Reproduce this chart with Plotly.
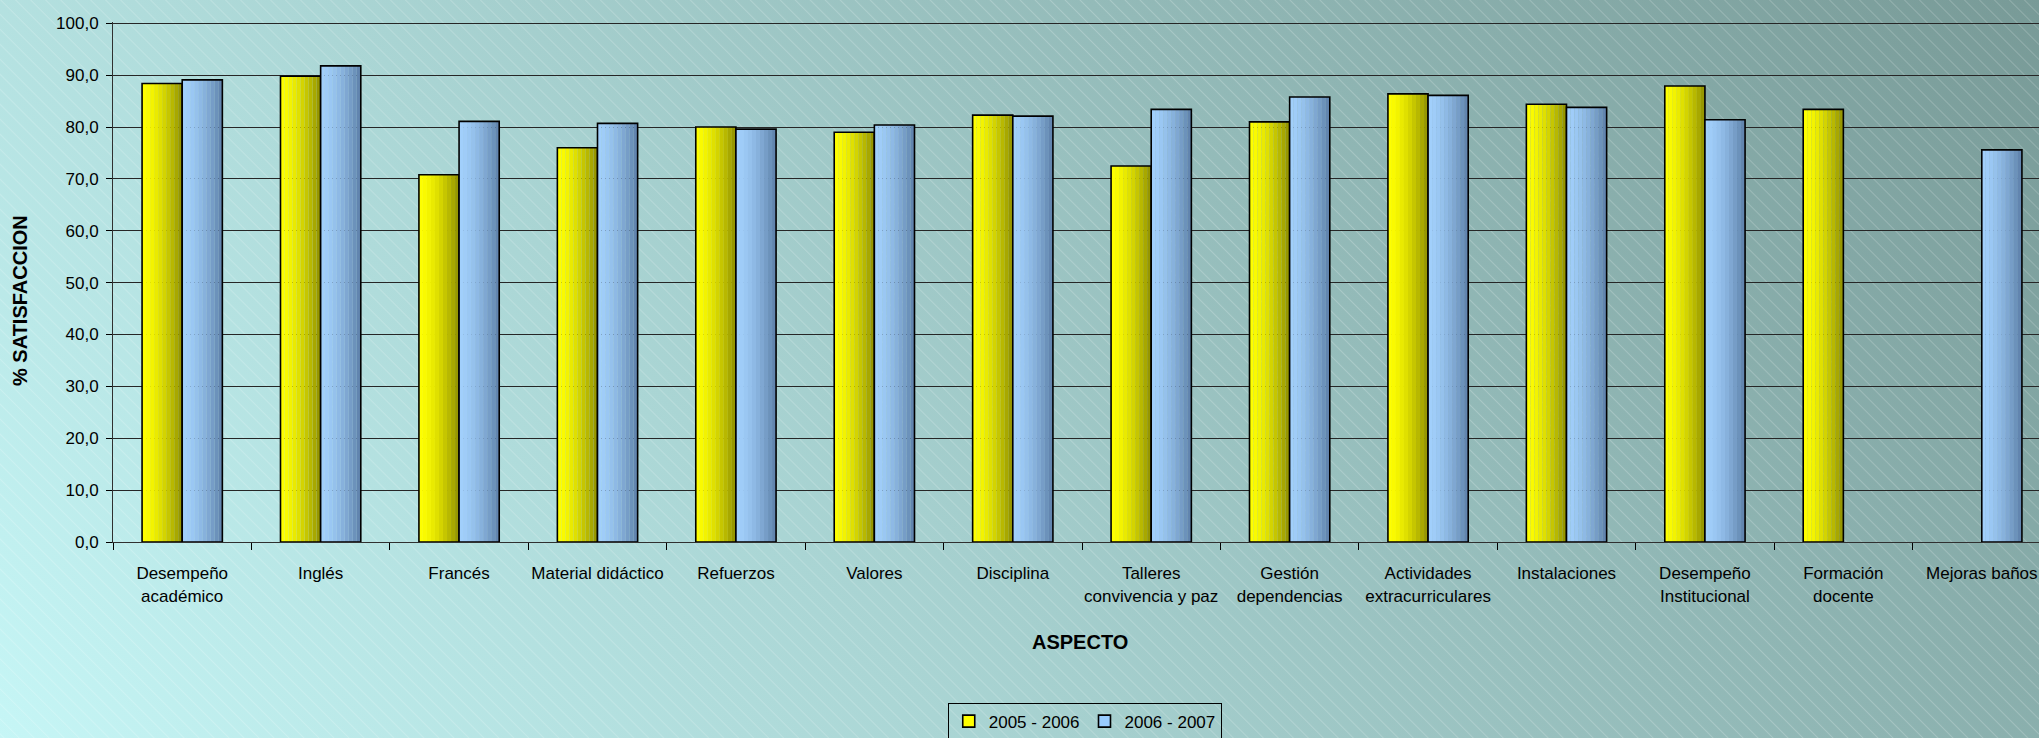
import base64
import plotly.graph_objects as go

# ---------------- data ----------------
categories = ["Desempeño académico", "Inglés", "Francés", "Material didáctico", "Refuerzos",
              "Valores", "Disciplina", "Talleres convivencia y paz", "Gestión dependencias",
              "Actividades extracurriculares", "Instalaciones", "Desempeño Institucional",
              "Formación docente", "Mejoras baños"]
tick_labels = ["Desempeño<br>académico", "Inglés", "Francés", "Material didáctico", "Refuerzos",
               "Valores", "Disciplina", "Talleres<br>convivencia y paz", "Gestión<br>dependencias",
               "Actividades<br>extracurriculares", "Instalaciones", "Desempeño<br>Institucional",
               "Formación<br>docente", "Mejoras baños"]
series_names = ["2005 - 2006", "2006 - 2007"]
values_2005_2006 = [88.4, 89.8, 70.8, 76.0, 80.0, 79.0, 82.3, 72.5, 81.0, 86.4, 84.4, 87.9, 83.4, None]
values_2006_2007 = [89.1, 91.8, 81.1, 80.7, 79.6, 80.4, 82.1, 83.4, 85.8, 86.1, 83.8, 81.4, None, 75.6]
y_ticks = [0, 10, 20, 30, 40, 50, 60, 70, 80, 90, 100]

# ---------------- styles ----------------
FONT = "Liberation Sans, Arial, sans-serif"
W, H = 2039, 738
ML, MT, MB = 113, 22, 196
BAR_W = 0.29          # width of one bar, in category units
N_STRIPES = 10
GRAD = {
    0: ("#FFFF00", "#8E8E00", "#FFFF00"),   # left, right, legend colour
    1: ("#A2D0FC", "#5C7FA8", "#99CCFF"),
}


def hex2rgb(h):
    h = h.lstrip("#")
    return tuple(int(h[i:i + 2], 16) for i in (0, 2, 4))


def mix(a, b, t):
    ra, rb = hex2rgb(a), hex2rgb(b)
    return "rgb(%d,%d,%d)" % tuple(round(ra[i] + (rb[i] - ra[i]) * t) for i in range(3))


# background (gradient + faint diagonal hatch) as an svg image
bg_svg = f'''<svg xmlns="http://www.w3.org/2000/svg" width="{W}" height="{H}" viewBox="0 0 {W} {H}" preserveAspectRatio="none">
<defs>
<linearGradient id="g" gradientUnits="userSpaceOnUse" x1="{W}" y1="0" x2="476" y2="1308">
<stop offset="0" stop-color="#789A97"/>
<stop offset="1" stop-color="#C6F6F6"/>
</linearGradient>
<pattern id="p" width="10.6" height="10.6" patternUnits="userSpaceOnUse" patternTransform="rotate(-45)">
<line x1="0.5" y1="0" x2="0.5" y2="10.6" stroke="#FFFFFF" stroke-opacity="0.2" stroke-width="1"/>
</pattern>
</defs>
<rect width="{W}" height="{H}" fill="url(#g)"/>
<rect width="{W}" height="{H}" fill="url(#p)"/>
</svg>'''
bg_src = "data:image/svg+xml;base64," + base64.b64encode(bg_svg.encode()).decode()

fig = go.Figure()

all_values = [values_2005_2006, values_2006_2007]
for s, vals in enumerate(all_values):
    left, right, legc = GRAD[s]
    base = -BAR_W if s == 0 else 0.0
    sw = BAR_W / N_STRIPES
    for j in range(N_STRIPES):
        t = (j + 0.5) / N_STRIPES
        fig.add_trace(go.Bar(
            x=categories, y=vals, offset=base + j * sw, width=sw,
            marker=dict(color=mix(left, right, t ** 1.6), line=dict(width=0)),
            showlegend=False, hoverinfo="skip",
        ))
    # outline
    fig.add_trace(go.Bar(
        x=categories, y=vals, offset=base, width=BAR_W, name=series_names[s],
        marker=dict(color="rgba(0,0,0,0)", line=dict(color="#000000", width=1.6)),
        showlegend=False,
    ))

# legend-only entries
for s in range(2):
    fig.add_trace(go.Bar(
        x=[None], y=[None], name=series_names[s],
        marker=dict(color=GRAD[s][2], line=dict(color="#000000", width=1.6)),
        showlegend=True, hoverinfo="skip",
    ))

plot_w = W - ML
plot_h = H - MT - MB

fig.update_layout(
    width=W, height=H,
    margin=dict(l=ML, r=0, t=MT, b=MB, pad=0),
    barmode="overlay",
    separators=",.",
    paper_bgcolor="#A8D4D2",
    plot_bgcolor="#C0C0C0",
    font=dict(family=FONT, size=17, color="#000000"),
    showlegend=True,
    legend=dict(
        orientation="h", xref="container", yref="container",
        x=0.532, xanchor="center", y=0.048, yanchor="top",
        bgcolor="rgba(0,0,0,0)", bordercolor="#000000", borderwidth=1,
        font=dict(family=FONT, size=17), traceorder="normal",
        itemwidth=30,
    ),
    images=[dict(
        source=bg_src, xref="paper", yref="paper",
        x=-ML / plot_w, y=1 + MT / plot_h, sizex=W / plot_w, sizey=H / plot_h,
        xanchor="left", yanchor="top", sizing="stretch", layer="below",
    )],
    xaxis=dict(
        type="category", categoryorder="array", categoryarray=categories,
        range=[-0.5, -0.5 + 14 * (plot_w / 1938.0)],
        tickmode="array", tickvals=categories, ticktext=tick_labels,
        tickson="boundaries", ticks="outside", ticklen=7, tickcolor="#000000", tickwidth=1,
        showline=True, linecolor="#303030", linewidth=1,
        showgrid=False, ticklabelstandoff=16, tickangle=0,
        tickfont=dict(family=FONT, size=17),
    ),
    yaxis=dict(
        range=[0, 100.25], tickmode="array", tickvals=y_ticks, tickformat=".1f",
        ticks="outside", ticklen=6, tickcolor="#000000", tickwidth=1,
        showline=True, linecolor="#303030", linewidth=1,
        showgrid=True, gridcolor="#262626", gridwidth=1.3,
        zeroline=False, ticklabelstandoff=4,
        tickfont=dict(family=FONT, size=17),
    ),
    annotations=[
        dict(text="ASPECTO", xref="paper", yref="paper",
             x=(1080 - ML) / plot_w, y=(542 - 642) / plot_h,
             xanchor="center", yanchor="middle", showarrow=False,
             font=dict(family=FONT, size=20, weight="bold")),
        dict(text="% SATISFACCION", xref="paper", yref="paper",
             x=(20 - ML) / plot_w, y=(542 - 301) / plot_h, textangle=-90,
             xanchor="center", yanchor="middle", showarrow=False,
             font=dict(family=FONT, size=20, weight="bold")),
    ],
)

fig.write_html(
    "out.html",
    config={"displayModeBar": False},
    post_script="document.body.style.margin='0';document.body.style.padding='0';"
                "document.body.style.overflow='hidden';",
)
